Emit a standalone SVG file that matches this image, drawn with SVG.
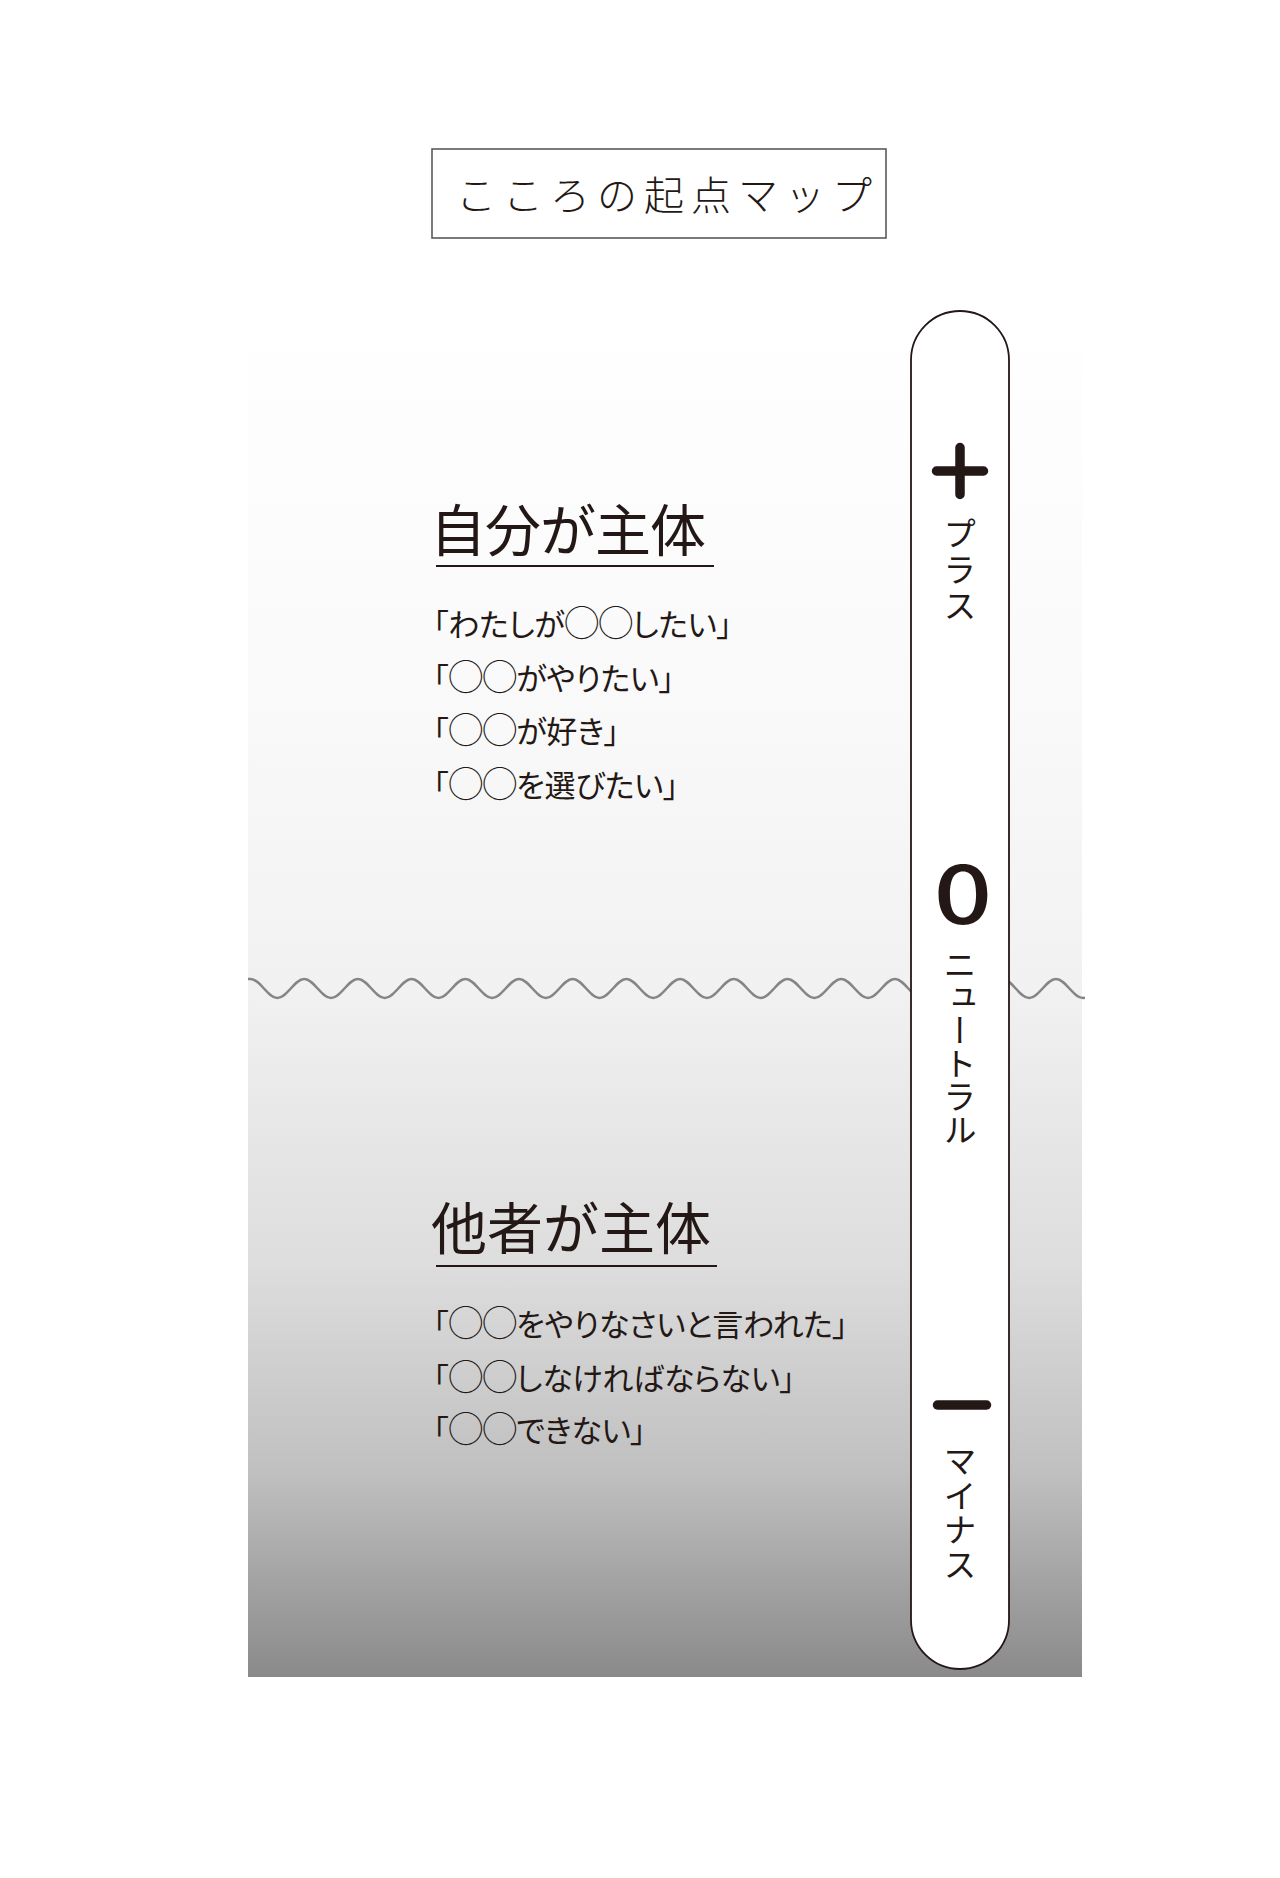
<svg xmlns="http://www.w3.org/2000/svg" width="1280" height="1878" viewBox="0 0 1280 1878">
<style>
.jp{font-family:"Noto Sans CJK JP","Noto Sans CJK SC",sans-serif;fill:#231815}
.head{font-size:56px;font-weight:400}
.item{font-size:31px;font-weight:400;font-feature-settings:"palt" 1;letter-spacing:-0.3px}
.c{font-size:35px;letter-spacing:-1px}
.vert{font-size:33px;writing-mode:vertical-rl;font-weight:400}
.uline{stroke:#231815;stroke-width:2}
.sign{stroke:#231815;stroke-width:9.5;stroke-linecap:round;fill:none}
</style>
<defs>
<linearGradient id="bg" x1="0" y1="0" x2="0" y2="1">
<stop offset="0" stop-color="#ffffff"/>
<stop offset="0.3" stop-color="#f9f9f9"/>
<stop offset="0.5" stop-color="#f1f1f1"/>
<stop offset="0.7" stop-color="#dddddd"/>
<stop offset="0.85" stop-color="#c0c0c0"/>
<stop offset="1" stop-color="#8a8a8a"/>
</linearGradient>
</defs>
<rect width="1280" height="1878" fill="#ffffff"/>
<g id="background">
<rect x="248" y="306" width="834" height="1371" fill="url(#bg)"/>
<path d="M248,979.1 L250.5,979 C260.28,979 267.57,998 277.35,998 S294.42,979 304.2,979 S321.27,998 331.05,998 S348.12,979 357.9,979 S374.97,998 384.75,998 S401.82,979 411.6,979 S428.67,998 438.45,998 S455.52,979 465.3,979 S482.37,998 492.15,998 S509.22,979 519,979 S536.07,998 545.85,998 S562.92,979 572.7,979 S589.77,998 599.55,998 S616.62,979 626.4,979 S643.47,998 653.25,998 S670.32,979 680.1,979 S697.17,998 706.95,998 S724.02,979 733.8,979 S750.87,998 760.65,998 S777.72,979 787.5,979 S804.57,998 814.35,998 S831.42,979 841.2,979 S858.27,998 868.05,998 S885.12,979 894.9,979 S911.97,998 921.75,998 S938.82,979 948.6,979 S965.67,998 975.45,998 S992.52,979 1002.3,979 S1019.37,998 1029.15,998 S1046.22,979 1056,979 S1073.07,998 1082.85,998 L1085,997.8" fill="none" stroke="#858585" stroke-width="2.5"/>
</g>
<g id="title">
<rect x="432" y="149" width="454" height="89" fill="#ffffff" stroke="#5a5a5a" stroke-width="1.6"/>
<text class="jp" x="456" y="210" font-size="40" font-weight="300" letter-spacing="7">こころの起点マップ</text>
</g>
<g id="scale">
<rect x="911" y="311" width="98" height="1358" rx="49" ry="49" fill="#ffffff" stroke="#231815" stroke-width="1.8"/>
<path class="sign" d="M936.5,471 H983.5 M960,447.5 V494.5"/>
<text class="jp vert" x="960" y="517" letter-spacing="3">プラス</text>
<text class="jp" x="0" y="0" font-size="82" font-weight="500" text-anchor="middle" transform="translate(963,924) scale(1.25,1)">0</text>
<text class="jp vert" x="960" y="948" font-size="32">ニュートラル</text>
<path class="sign" d="M937.5,1405 H986.5"/>
<text class="jp vert" x="960" y="1444" letter-spacing="1.5">マイナス</text>
</g>
<g id="self">
<text class="jp head" x="430" y="551" letter-spacing="-1">自分が主体</text>
<line class="uline" x1="436" y1="566" x2="714" y2="566"/>
<text class="jp item" x="433" y="636">「わたしが<tspan class="c">◯◯</tspan>したい」</text>
<text class="jp item" x="433" y="690">「<tspan class="c">◯◯</tspan>がやりたい」</text>
<text class="jp item" x="433" y="743">「<tspan class="c">◯◯</tspan>が好き」</text>
<text class="jp item" x="433" y="797">「<tspan class="c">◯◯</tspan>を選びたい」</text>
</g>
<g id="others">
<text class="jp head" x="431" y="1249">他者が主体</text>
<line class="uline" x1="436" y1="1266" x2="717" y2="1266"/>
<text class="jp item" x="433" y="1336">「<tspan class="c">◯◯</tspan>をやりなさいと言われた」</text>
<text class="jp item" x="433" y="1390">「<tspan class="c">◯◯</tspan>しなければならない」</text>
<text class="jp item" x="433" y="1442">「<tspan class="c">◯◯</tspan>できない」</text>
</g>
</svg>
